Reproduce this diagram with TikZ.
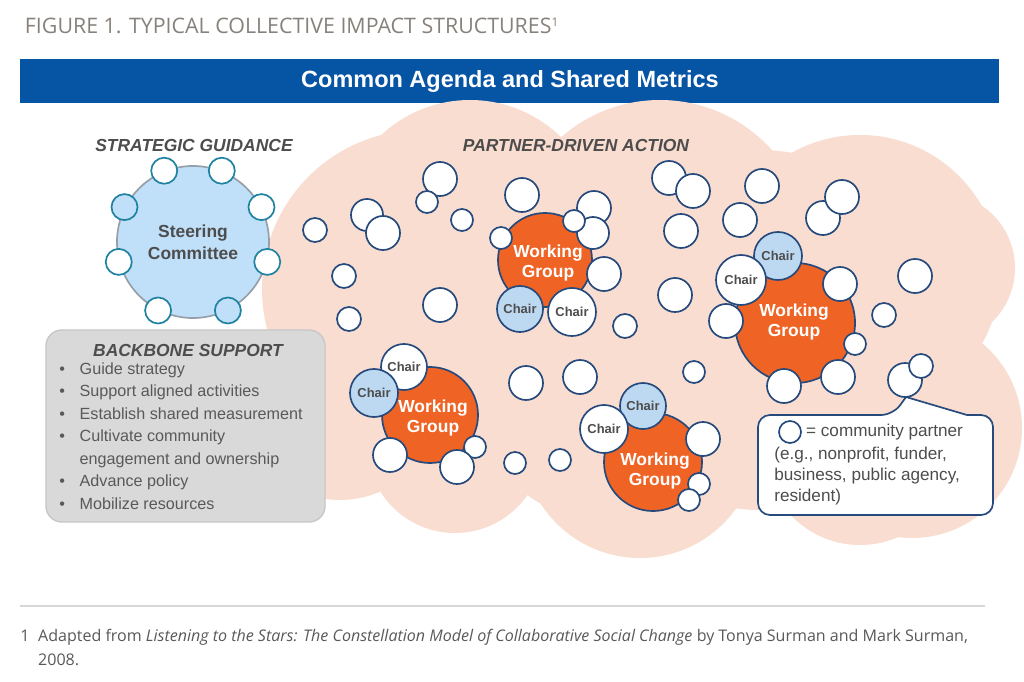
\documentclass[tikz,border=0pt]{standalone}
\usepackage{fontspec}
\setmainfont{Liberation Sans}
\newfontfamily\notefont{Open Sans}
\usetikzlibrary{positioning}

\definecolor{barblue}{RGB}{6,84,164}
\definecolor{cloudpink}{RGB}{250,221,209}
\definecolor{wgorange}{RGB}{239,99,36}
\definecolor{navy}{RGB}{38,74,124}
\definecolor{chairblue}{RGB}{189,217,242}
\definecolor{steerblue}{RGB}{192,223,248}
\definecolor{steergray}{RGB}{150,160,170}
\definecolor{seatteal}{RGB}{30,130,160}
\definecolor{boxgray}{RGB}{217,217,217}
\definecolor{boxedge}{RGB}{200,200,200}
\definecolor{darktext}{RGB}{77,77,77}
\definecolor{bodytext}{RGB}{89,89,89}
\definecolor{notegray}{RGB}{135,129,123}
\definecolor{rulegray}{RGB}{215,215,215}

\begin{document}
\begin{tikzpicture}[x=0.025cm,y=-0.025cm,
  partner/.style={circle,draw=navy,line width=1.2pt,fill=white,inner sep=0pt,minimum size=#1*0.05cm},
  chair/.style={partner=#1,text=darktext,font=\fontsize{9.2pt}{10pt}\selectfont\bfseries},
  bluechair/.style={chair=#1,fill=chairblue},
  wgroup/.style={circle,draw=navy,line width=1.2pt,fill=wgorange,inner sep=0pt,minimum size=#1*0.05cm},
  wgtext/.style={text=white,align=center,inner sep=0pt,font=\fontsize{12.4pt}{14.4pt}\selectfont\bfseries},
  seat/.style={circle,draw=seatteal,line width=1.2pt,fill=white,inner sep=0pt,minimum size=0.65cm},
  heading/.style={text=darktext,font=\fontsize{12.4pt}{14pt}\selectfont\bfseries\itshape}]
\useasboundingbox (0,0) rectangle (1024,682);
\fill[white] (0,0) rectangle (1024,682);

% title and banner
\node[anchor=west,text=notegray,font=\notefont\fontsize{15.2pt}{17pt}\selectfont] (fig) at (20,26) {FIGURE 1. TYPICAL COLLECTIVE IMPACT STRUCTURES\raisebox{0.6ex}{\fontsize{8.5pt}{8.5pt}\selectfont 1}};
\fill[barblue] (20,59) rectangle (999,103);
\node[text=white,font=\fontsize{16.7pt}{18pt}\selectfont\bfseries] (agenda) at (510,81) {Common Agenda and Shared Metrics};

% cloud
\fill[cloudpink] (421,289) circle (159);
\fill[cloudpink] (470,230) circle (130);
\fill[cloudpink] (660,250) circle (150);
\fill[cloudpink] (860,275) circle (140);
\fill[cloudpink] (940,268) circle (75);
\fill[cloudpink] (912,428) circle (110);
\fill[cloudpink] (860,450) circle (95);
\fill[cloudpink] (640,440) circle (118);
\fill[cloudpink] (455,445) circle (88);
\fill[cloudpink] (340,400) circle (100);
\fill[cloudpink] (640,330) circle (200);
\fill[cloudpink] (760,330) circle (180);

% strategic guidance
\node[heading] (sg) at (194,145) {STRATEGIC GUIDANCE};
\node[circle,draw=steergray,line width=1.2pt,fill=steerblue,minimum size=3.8cm,inner sep=0pt,
  align=center,text=darktext,font=\fontsize{12.4pt}{15.6pt}\selectfont\bfseries] (steer) at (193,242) {Steering\\Committee};
\node[seat] (s1) at (steer.112) {};
\node[seat] (s2) at (steer.68) {};
\node[seat,fill=steerblue] (s3) at (steer.153) {};
\node[seat] (s4) at (steer.27) {};
\node[seat] (s5) at (steer.195) {};
\node[seat] (s6) at (steer.-15) {};
\node[seat] (s7) at (steer.243) {};
\node[seat,fill=steerblue] (s8) at (steer.297) {};

% backbone support
\node[draw=boxedge,fill=boxgray,line width=1pt,rounded corners=0.4cm,minimum width=6.975cm,minimum height=4.8cm] (backbone) at (185.5,426) {};
\node[heading] (bbtitle) at (188,350) {BACKBONE SUPPORT};
\node[anchor=west,inner sep=0pt,text=bodytext,font=\fontsize{11.5pt}{16pt}\selectfont] (bblist) at (59,437) {%
  \begin{tabular}{@{}l@{\hspace{10.5pt}}l@{}}
  \textbullet & Guide strategy\\
  \textbullet & Support aligned activities\\
  \textbullet & Establish shared measurement\\
  \textbullet & Cultivate community\\
              & engagement and ownership\\
  \textbullet & Advance policy\\
  \textbullet & Mobilize resources
  \end{tabular}};

% partner-driven action
\node[heading] (pda) at (576,145) {PARTNER-DRIVEN ACTION};

% legend callout
\coordinate (tip) at (906,397);
\draw[navy,line width=1.2pt,fill=white] (758,465) [rounded corners=0.3cm] -- (758,415) -- (893,415) [sharp corners] -- (tip) -- (967,415) [rounded corners=0.3cm] -- (993,415) -- (993,515) -- (758,515) -- cycle;
\node[partner=11] (key) at (790,432) {};
\node[right=0.1cm of key,inner sep=0pt,text=darktext,font=\fontsize{12.2pt}{15.2pt}\selectfont] (keytext) {= community partner};
\node[anchor=west,inner sep=0pt,align=left,text=darktext,font=\fontsize{12.2pt}{15.2pt}\selectfont] (keynote) at (774,476) {(e.g., nonprofit, funder,\\business, public agency,\\resident)};

% community partners
\node[partner=17] (p1) at (440,179) {};
\node[partner=11] (p2) at (427,202) {};
\node[partner=11] (p3) at (462,220) {};
\node[partner=16] (p4) at (367,215) {};
\node[partner=17] (p5) at (383,233) {};
\node[partner=12] (p6) at (315,230) {};
\node[partner=12] (p7) at (344,276) {};
\node[partner=12] (p8) at (349,319) {};
\node[partner=17] (p9) at (440,305) {};
\node[partner=17] (p10) at (522,195) {};
\node[partner=12] (p11) at (625,326) {};
\node[partner=17] (p12) at (669,178) {};
\node[partner=17] (p13) at (693,191) {};
\node[partner=17] (p14) at (681,231) {};
\node[partner=17] (p15) at (675,295) {};
\node[partner=17] (p16) at (762,186) {};
\node[partner=17] (p17) at (740,220) {};
\node[partner=17] (p18) at (823,218) {};
\node[partner=17] (p19) at (842,197) {};
\node[partner=17] (p20) at (915,276) {};
\node[partner=12] (p21) at (884,315) {};
\node[partner=11] (p22) at (694,372) {};
\node[partner=17] (p23) at (526,383) {};
\node[partner=17] (p24) at (580,377) {};
\node[partner=11] (p25) at (515,463) {};
\node[partner=11] (p26) at (560,460) {};
\node[partner=17] (p27) at (905,380) {};
\node[partner=12] (p28) at (921,366) {};

% working group 1
\node[wgroup=47] (wg1) at (545,260) {};
\node[wgtext] (wg1t) at (548,263) {Working\\Group};
\node[partner=11] (w1a) at (501,238) {};
\node[partner=17] (w1b) at (594,208) {};
\node[partner=16] (w1c) at (593,233) {};
\node[partner=11] (w1d) at (574,221) {};
\node[partner=17] (w1e) at (604,274) {};
\node[bluechair=23] (c1a) at (520,309) {Chair};
\node[chair=24] (c1b) at (572,312) {Chair};

% working group 2
\node[wgroup=48] (wg2) at (430,415) {};
\node[wgtext] (wg2t) at (433,418) {Working\\Group};
\node[chair=23] (c2a) at (404,367) {Chair};
\node[bluechair=24] (c2b) at (374,393) {Chair};
\node[partner=17] (w2a) at (390,455) {};
\node[partner=11] (w2b) at (475,447) {};
\node[partner=17] (w2c) at (457,467) {};

% working group 3
\node[wgroup=60] (wg3) at (795,323) {};
\node[wgtext] (wg3t) at (794,322) {Working\\Group};
\node[bluechair=24] (c3a) at (778,256) {Chair};
\node[chair=25] (c3b) at (741,280) {Chair};
\node[partner=17] (w3a) at (840,284) {};
\node[partner=17] (w3b) at (726,321) {};
\node[partner=11] (w3c) at (855,344) {};
\node[partner=17] (w3d) at (838,377) {};
\node[partner=17] (w3e) at (784,386) {};

% working group 4
\node[wgroup=49] (wg4) at (653,462) {};
\node[wgtext] (wg4t) at (655,471) {Working\\Group};
\node[bluechair=23] (c4a) at (643,406) {Chair};
\node[chair=24] (c4b) at (604,429) {Chair};
\node[partner=17] (w4a) at (703,439) {};
\node[partner=11] (w4b) at (699,484) {};
\node[partner=11] (w4c) at (689,500) {};

% footnote
\draw[rulegray,line width=1.5pt] (20,606) -- (985,606);
\node[anchor=west,inner sep=0pt,text=bodytext,font=\notefont\fontsize{11.4pt}{17pt}\selectfont] (fntext) at (20,649) {%
  \begin{tabular}{@{}l@{\hspace{6.2pt}}l@{}}
  1 & Adapted from \textit{Listening to the Stars: The Constellation Model of Collaborative Social Change} by Tonya Surman and Mark Surman,\\
    & 2008.
  \end{tabular}};
\end{tikzpicture}
\end{document}
